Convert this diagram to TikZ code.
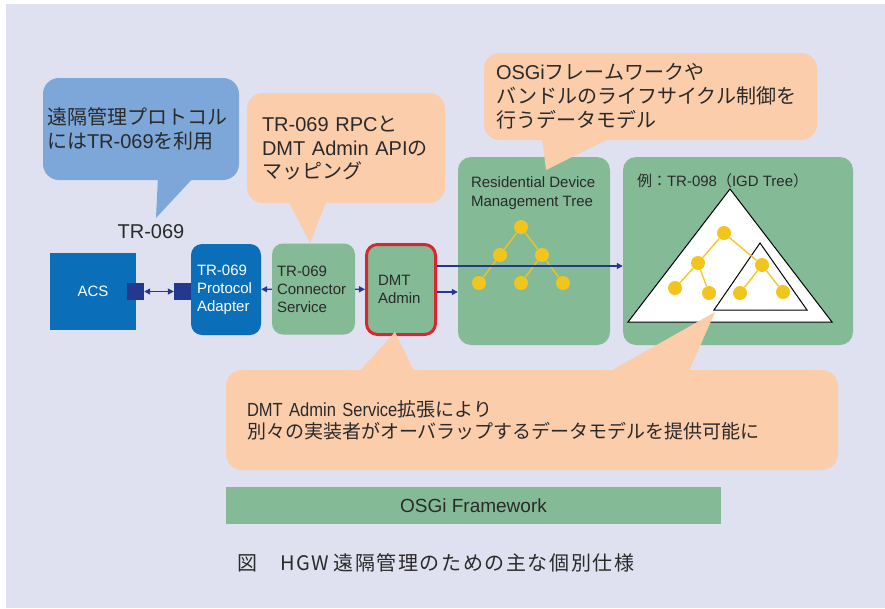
\documentclass[tikz,border=0pt]{standalone}
\usepackage{fontspec}
\setmainfont{Liberation Sans}
\newfontfamily\jp{Noto Sans CJK JP}
\newfontfamily\jpcap[LetterSpace=8]{Noto Sans CJK JP}
\newfontfamily\narrowlat[FakeStretch=0.87]{Liberation Sans}
\usetikzlibrary{arrows.meta}
\definecolor{bgpane}{HTML}{DFE1F0}
\definecolor{calloutblue}{HTML}{7DA7D8}
\definecolor{boxblue}{HTML}{0A6FB8}
\definecolor{navy}{HTML}{24388E}
\definecolor{boxgreen}{HTML}{84BA96}
\definecolor{calloutorange}{HTML}{FBCDAA}
\definecolor{alertred}{HTML}{D6282E}
\definecolor{leafyellow}{HTML}{F2C51E}
\definecolor{textdark}{HTML}{2A2A2A}
\begin{document}
\begin{tikzpicture}[x=1pt, y=-1pt,
  box/.style={rounded corners=11pt, inner ysep=0pt, align=left,
    minimum height=91pt, font=\fontsize{15}{18}\selectfont, text=textdark},
  pane/.style={rounded corners=13pt, fill=boxgreen, minimum width=#1,
    minimum height=188pt, inner sep=0pt},
  callout/.style={rounded corners=16pt, inner ysep=0pt, align=left,
    text=textdark, fill=#1},
  port/.style={fill=navy, minimum size=17pt, inner sep=0pt},
  arr/.style={draw=navy, line width=1.2pt, -{Triangle[length=6pt,width=6pt]}},
  biarr/.style={draw=navy, line width=1.2pt,
    {Triangle[length=6pt,width=6pt]}-{Triangle[length=6pt,width=6pt]}},
  leaf/.style={circle, fill=leafyellow, minimum size=14pt, inner sep=0pt},
  twig/.style={draw=leafyellow, line width=1.3pt},
  lbl/.style={anchor=north west, inner sep=0pt, align=left, text=textdark,
    font=\fontsize{15}{19}\selectfont}
  ]
  \useasboundingbox (0,0) rectangle (885,608);
  \fill[bgpane] (6,4) rectangle (885,608);

  % boxes along the chain
  \node[fill=boxblue, minimum width=86pt, minimum height=77pt, text=white,
    font=\fontsize{15}{18}\selectfont] (acs) at (93,291.5) {ACS};
  \node[port] (portA) at (135.5,291.5) {};
  \node[port] (portB) at (182.5,291.5) {};
  \node[box, fill=boxblue, text=white, text width=58pt, inner xsep=6pt]
    (adapter) at (226,289.5) {TR-069\\Protocol\\Adapter};
  \node[box, fill=boxgreen, text width=73pt, inner xsep=5pt]
    (conn) at (313.5,289) {TR-069\\Connector\\Service};
  \node[box, fill=boxgreen, draw=alertred, line width=3pt, text width=46pt,
    inner xsep=11.5pt, minimum height=90pt] (dmt) at (401,289.5) {DMT\\Admin};

  \node[pane=152pt, label={[lbl, xshift=13pt, yshift=-20pt]north west:
    Residential Device\\Management Tree}] (res) at (534,251) {};
  \node[pane=230pt, label={[lbl, xshift=14pt, yshift=-17pt]north west:
    {\jp 例：}TR-098{\jp （}IGD Tree{\jp ）}}] (igd) at (738,251) {};

  % connectors
  \draw[biarr] (portA) -- (portB);
  \draw[arr] (conn) -- (adapter);
  \draw[arr] (conn) -- (dmt);
  \coordinate (dmtlow) at ([yshift=-2.5pt]dmt.east);
  \coordinate (dmthigh) at ([yshift=23.5pt]dmt.east);
  \draw[arr] (dmtlow) -- (dmtlow -| res.west);

  % residential tree
  \node[leaf] (r0) at (521,227) {};
  \node[leaf] (r1) at (500,255) {};
  \node[leaf] (r2) at (542,255) {};
  \node[leaf] (r3) at (479,283) {};
  \node[leaf] (r4) at (521,283) {};
  \node[leaf] (r5) at (563,283) {};
  \foreach \a/\b in {r0/r1, r0/r2, r1/r3, r2/r4, r2/r5}
    \draw[twig] (\a) -- (\b);

  % IGD tree
  \draw[fill=white, line width=1pt] (730,189) -- (628,322) -- (832,322) -- cycle;
  \draw[line width=1pt] (760,243) -- (714,310) -- (807,310) -- cycle;
  \node[leaf] (g0) at (724,233) {};
  \node[leaf] (g1) at (698,263) {};
  \node[leaf] (g2) at (762,265) {};
  \node[leaf] (g3) at (675,288) {};
  \node[leaf] (g4) at (709,293) {};
  \node[leaf] (g5) at (740,293) {};
  \node[leaf] (g6) at (783,292) {};
  \foreach \a/\b in {g0/g1, g0/g2, g1/g3, g1/g4, g2/g5, g2/g6}
    \draw[twig] (\a) -- (\b);

  \draw[arr] (dmthigh) -- (dmthigh -| igd.west);

  % callouts
  \node[font=\fontsize{20}{24}\selectfont, text=textdark] (trlabel)
    at (151,232) {TR-069};
  \fill[calloutblue] (158,176) -- (156,218) -- (195,176) -- cycle;
  \node[callout=calloutblue, minimum width=196pt, minimum height=102pt,
    text width=188pt, inner xsep=4pt, font=\fontsize{20}{24}\selectfont]
    (proto) at (141,129) {{\jp 遠隔管理プロトコル}\\{\jp には}TR-069{\jp を利用}};
  \fill[calloutorange] (288,200) -- (310,243) -- (327,200) -- cycle;
  \node[callout=calloutorange, minimum width=198pt, minimum height=110pt,
    text width=168pt, inner xsep=15pt, font=\fontsize{20}{23.5}\selectfont]
    (rpc) at (346,148) {TR-069 RPC{\jp と}\\DMT Admin API{\jp の}\\{\jp マッピング}};
  \fill[calloutorange] (542,137) -- (546,170) -- (612,137) -- cycle;
  \node[callout=calloutorange, minimum width=333pt, minimum height=87pt,
    text width=309pt, inner xsep=12pt, font=\fontsize{20}{24}\selectfont]
    (life) at (650.5,96.5) {OSGi{\jp フレームワークや}\\
    {\jp バンドルのライフサイクル制御を}\\{\jp 行うデータモデル}};
  \fill[calloutorange] (358,373) -- (395,332) -- (415,373) -- cycle;
  \fill[calloutorange] (607,373) -- (715,312) -- (688,373) -- cycle;
  \node[callout=calloutorange, minimum width=612pt, minimum height=100pt,
    text width=570pt, inner xsep=21pt, font=\fontsize{19}{22}\selectfont]
    (ext) at (532,420) {{\narrowlat DMT Admin Service}{\jp 拡張により}\\
    {\jp 別々の実装者がオーバラップするデータモデルを提供可能に}};

  % framework and caption
  \node[fill=boxgreen, minimum width=495pt, minimum height=37pt, text=textdark,
    font=\fontsize{19}{22}\selectfont] (osgi) at (473.5,505.5) {OSGi Framework};
  \node[anchor=west, inner sep=0pt, text=textdark,
    font=\jpcap\fontsize{20}{24}\selectfont] (caption) at (237,563)
    {図　HGW\hspace{4pt}遠隔管理のための主な個別仕様};
\end{tikzpicture}
\end{document}
